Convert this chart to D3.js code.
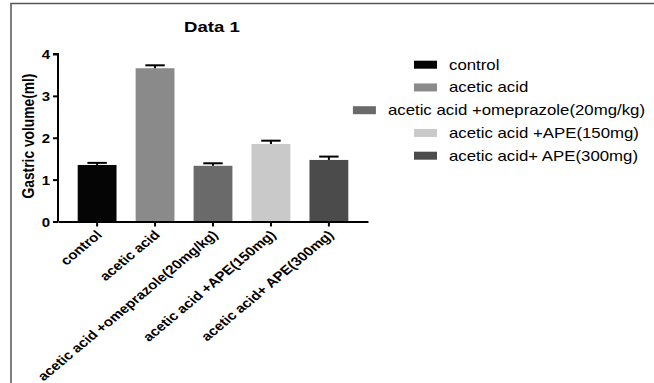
<!DOCTYPE html>
<html>
<head>
<meta charset="utf-8">
<script src="https://cdn.jsdelivr.net/npm/d3@7"></script>
<style>
  body { margin: 0; background: #fff; }
  text { font-family: "Liberation Sans", Arial, sans-serif; fill: #000; }
</style>
</head>
<body>
<div id="chart"></div>
<script>
const groups = ['control', 'acetic acid', 'acetic acid +omeprazole(20mg/kg)',
  'acetic acid +APE(150mg)', 'acetic acid+ APE(300mg)'];
const means = [1.35, 3.66, 1.33, 1.85, 1.47];
const errors = [0.05, 0.07, 0.06, 0.08, 0.08];
const colors = ['#050505', '#8a8a8a', '#6a6a6a', '#c9c9c9', '#4b4b4b'];
const yTicks = [0, 1, 2, 3, 4];

const W = 654;
const H = 383;
const sx = 1.2; // the source picture is stretched sideways
const plot = { left: 58, right: 368, top: 54, bottom: 221.5 };

const svg = d3.select('#chart').append('svg')
  .attr('width', W)
  .attr('height', H);

svg.append('rect').attr('width', W).attr('height', H).attr('fill', '#fff');

// frame of the original picture
svg.append('path')
  .attr('d', `M11,${H} V3.5 H${W}`)
  .attr('fill', 'none')
  .attr('stroke', '#555')
  .attr('stroke-width', 1.5);

const x = d3.scaleBand()
  .domain(groups)
  .range([plot.left, plot.right])
  .paddingInner(0.33)
  .paddingOuter(0.34);

const y = d3.scaleLinear()
  .domain([0, 4])
  .range([plot.bottom, plot.top]);

// bars
svg.selectAll('.bar')
  .data(groups)
  .enter().append('rect')
  .attr('class', 'bar')
  .attr('x', d => x(d))
  .attr('width', x.bandwidth())
  .attr('y', (d, i) => y(means[i]))
  .attr('height', (d, i) => y(0) - y(means[i]))
  .attr('fill', (d, i) => colors[i]);

// error bars, upper half only
const capW = x.bandwidth() / 2;
const err = svg.selectAll('.err')
  .data(groups)
  .enter().append('g')
  .attr('class', 'err')
  .attr('stroke', '#000')
  .attr('stroke-width', 2);

err.append('line')
  .attr('x1', d => x(d) + x.bandwidth() / 2)
  .attr('x2', d => x(d) + x.bandwidth() / 2)
  .attr('y1', (d, i) => y(means[i]))
  .attr('y2', (d, i) => y(means[i] + errors[i]));

err.append('line')
  .attr('x1', d => x(d) + x.bandwidth() / 2 - capW / 2)
  .attr('x2', d => x(d) + x.bandwidth() / 2 + capW / 2)
  .attr('y1', (d, i) => y(means[i] + errors[i]))
  .attr('y2', (d, i) => y(means[i] + errors[i]));

// y axis
const yAxis = svg.append('g')
  .attr('transform', `translate(${plot.left},0)`)
  .call(d3.axisLeft(y).tickValues(yTicks).tickSize(5).tickFormat(d3.format('d')));
yAxis.select('.domain').attr('stroke-width', 2).attr('d', `M-5,${y(4)}H0V${y(0)}`);
yAxis.selectAll('.tick line').attr('stroke-width', 2);
yAxis.selectAll('.tick text')
  .attr('x', null).attr('dy', null)
  .attr('text-anchor', 'end')
  .attr('transform', `translate(-8,4.5) scale(${sx},1)`)
  .style('font-size', '12.5px')
  .style('font-weight', 'bold')
  .style('font-family', '"Liberation Sans", Arial, sans-serif');

// x axis
const xAxis = svg.append('g')
  .attr('transform', `translate(0,${plot.bottom})`)
  .call(d3.axisBottom(x).tickSize(5).tickSizeOuter(0));
xAxis.select('.domain').attr('stroke-width', 2);
xAxis.selectAll('.tick line').attr('stroke-width', 2);
xAxis.selectAll('.tick text')
  .attr('y', null).attr('dy', null)
  .attr('text-anchor', 'end')
  .attr('transform', `translate(2,11) scale(${sx},1) rotate(-45)`)
  .attr('dy', '0.35em')
  .style('font-size', '12.7px')
  .style('font-weight', 'bold')
  .style('font-family', '"Liberation Sans", Arial, sans-serif');

// y axis label
svg.append('text')
  .attr('text-anchor', 'middle')
  .attr('transform', `translate(34,136) scale(${sx},1) rotate(-90)`)
  .style('font-size', '13.8px')
  .style('font-weight', 'bold')
  .text('Gastric volume(ml)');

// title
svg.append('text')
  .attr('text-anchor', 'middle')
  .attr('transform', `translate(212,32) scale(${sx},1)`)
  .style('font-size', '15.5px')
  .style('font-weight', 'bold')
  .text('Data 1');

// legend
const ly = d3.scalePoint()
  .domain(groups)
  .range([64.7, 155.7]);

const legend = svg.selectAll('.legend')
  .data(groups)
  .enter().append('g')
  .attr('class', 'legend');

legend.append('rect')
  .attr('width', 23)
  .attr('height', 8)
  .attr('y', -4)
  .attr('fill', (d, i) => colors[i]);

legend.append('text')
  .attr('transform', `translate(35,5) scale(${sx},1)`)
  .style('font-size', '14px')
  .text(d => d);

// long labels are moved left so they stay inside the picture
legend.attr('transform', function (d) {
  const tw = this.querySelector('text').getComputedTextLength() * sx;
  const lx = Math.min(414, 645 - 35 - tw);
  return `translate(${lx},${ly(d)})`;
});
</script>
</body>
</html>
